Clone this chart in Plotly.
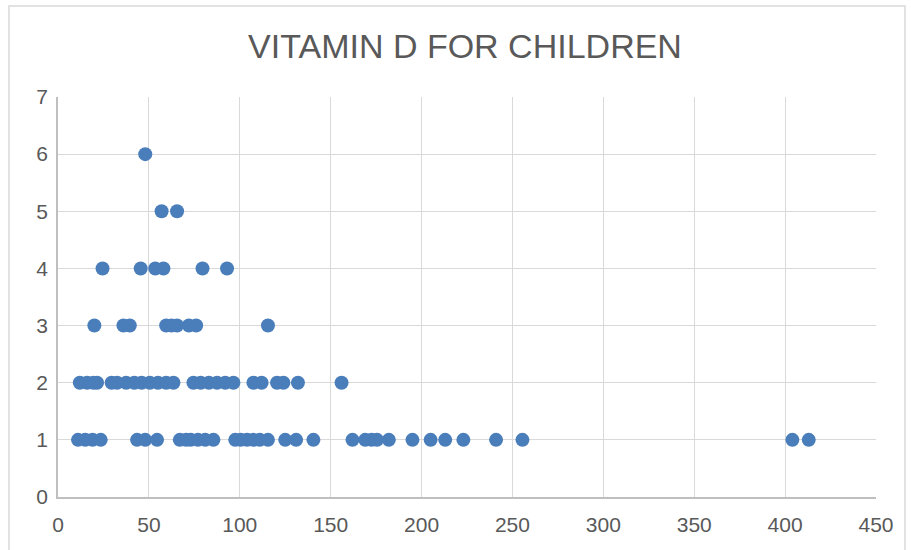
import plotly.graph_objects as go

title_text = "VITAMIN D FOR CHILDREN"

# Vitamin D dose (x) and number of children (y)
x_count1 = [11, 15, 19, 23.5, 43.5, 48, 54.5, 67, 70.5, 73, 77, 81, 85.5, 97.5, 100.5,
            104, 107.5, 111, 115.5, 125, 131, 140.5, 162, 169, 172.5, 175.5, 182, 195,
            205, 213, 223, 241, 255.5, 404, 413]
x_count2 = [12, 16, 19.5, 21.5, 29.5, 32.5, 37.5, 42, 46, 50.5, 55, 59.5, 63.5, 74.5,
            78.5, 83, 87.5, 92, 96.5, 107.5, 112, 120.5, 124, 132, 156]
x_count3 = [20, 36, 39.5, 59.5, 62.5, 65.5, 72, 76, 115.5]
x_count4 = [24.5, 45.5, 53.5, 58, 79.5, 93]
x_count5 = [57, 65.5]
x_count6 = [48]

x_vals = x_count1 + x_count2 + x_count3 + x_count4 + x_count5 + x_count6
y_vals = ([1] * len(x_count1) + [2] * len(x_count2) + [3] * len(x_count3)
          + [4] * len(x_count4) + [5] * len(x_count5) + [6] * len(x_count6))

x_ticks = [0, 50, 100, 150, 200, 250, 300, 350, 400, 450]
y_ticks = [0, 1, 2, 3, 4, 5, 6, 7]

fig = go.Figure()
fig.add_trace(go.Scatter(
    x=x_vals, y=y_vals, mode="markers",
    marker=dict(color="#4a7ebb", size=14, line=dict(width=0)),
    showlegend=False, hoverinfo="x+y",
))

font_family = "Liberation Sans, Arial, sans-serif"
fig.update_layout(
    width=911, height=550,
    margin=dict(l=58, r=35, t=97, b=53),
    paper_bgcolor="white", plot_bgcolor="white",
    title=dict(text=title_text, x=465 / 911, xanchor="center",
               y=1 - 46 / 550, yanchor="middle",
               font=dict(family=font_family, size=34, color="#595959")),
    xaxis=dict(range=[0, 450], tickvals=x_ticks, showgrid=True, gridcolor="#d9d9d9",
               gridwidth=1, zeroline=False, showline=True, linecolor="#bfbfbf",
               linewidth=1.5, ticks="", ticklabelstandoff=8,
               tickfont=dict(family=font_family, size=21, color="#595959")),
    yaxis=dict(range=[0, 7], tickvals=y_ticks, showgrid=True, gridcolor="#d9d9d9",
               gridwidth=1, zeroline=False, showline=True, linecolor="#bfbfbf",
               linewidth=1.5, ticks="", ticklabelstandoff=4,
               tickfont=dict(family=font_family, size=21, color="#595959")),
)

# outer chart-area border
fig.add_shape(type="rect", xref="paper", yref="paper",
              x0=(9 - 58) / 818, x1=(905 - 58) / 818,
              y0=-0.3, y1=(497 - 6) / 400,
              line=dict(color="#d9d9d9", width=1.5), layer="below")

fig.write_html("out.html")
